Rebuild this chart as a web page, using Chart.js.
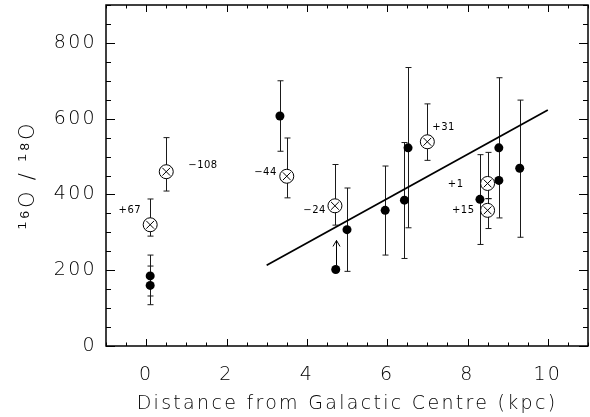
<!DOCTYPE html>
<html>
<head>
<meta charset="utf-8">
<script src="https://cdn.jsdelivr.net/npm/chart.js@4.4.1/dist/chart.umd.min.js"></script>
<style>
  html, body { margin: 0; padding: 0; background: #fff; }
  canvas { display: block; }
</style>
</head>
<body>
<canvas id="isoChart" width="590" height="417"></canvas>
<script>
// Data
// filled dots
const dotX  = [0.1, 0.1, 3.33, 5.0, 5.95, 6.43, 6.52, 8.31, 8.78, 8.78, 9.3];
const dotY  = [185, 160, 607, 307, 358, 385, 523, 387, 523, 437, 469];
const dotLo = [132, 109, 514, 197, 240, 231, 312, 268, null, 338, 287];
const dotHi = [240, 211, 700, 417, 475, 537, 735, 505, null, 708, 649];

// circled crosses, with their velocity tags
const crossX    = [0.1, 0.5, 3.5, 4.7, 7.0, 8.5, 8.5];
const crossY    = [320, 460, 448, 370, 539, 429, 358];
const crossLo   = [290, 409, 391, 319, 490, 389, 310];
const crossHi   = [388, 550, 549, 479, 639, 511, 389];
const crossTags = ['+67', '\u2212108', '\u221244', '\u221224', '+31', '+1', '+15'];

// lower limit
const limitX = [4.72];
const limitY = [202];

// linear fit
const fitX = [3, 10];
const fitY = [213, 623];

const xTicks = [0, 2, 4, 6, 8, 10];
const yTicks = [0, 200, 400, 600, 800];

// Layout of the tags (px from the marker centre)
const TAG_POS = [
    { dx: -9, dy: -14, align: 'right' },
    { dx: 22, dy: -6, align: 'left' },
    { dx: -10, dy: -4, align: 'right' },
    { dx: -9, dy: 5, align: 'right' },
    { dx: 5, dy: -14, align: 'left' },
    { dx: -24, dy: 1, align: 'right' },
    { dx: -13, dy: 0, align: 'right' }
];

const FONT = "'DejaVu Sans', sans-serif";
const INK = '#000';

const toPts = (xs, ys) => xs.map((x, i) => ({ x: x, y: ys[i] }));

// error bars + lower-limit arrow, under the markers
const errorBars = {
    id: 'errorBars',
    beforeDatasetsDraw(chart) {
        const ctx = chart.ctx;
        const xs = chart.scales.x, ys = chart.scales.y;
        const drawBar = (x, lo, hi, color) => {
            if (lo == null || hi == null) return;
            const px = Math.round(xs.getPixelForValue(x)) + 0.5;
            const p1 = ys.getPixelForValue(lo), p2 = ys.getPixelForValue(hi);
            ctx.strokeStyle = color;
            ctx.beginPath();
            ctx.moveTo(px, p1); ctx.lineTo(px, p2);
            ctx.moveTo(px - 3, p1); ctx.lineTo(px + 3, p1);
            ctx.moveTo(px - 3, p2); ctx.lineTo(px + 3, p2);
            ctx.stroke();
        };
        ctx.save();
        ctx.lineWidth = 1;
        dotX.forEach((x, i) => drawBar(x, dotLo[i], dotHi[i], '#1a1a1a'));
        crossX.forEach((x, i) => drawBar(x, crossLo[i], crossHi[i], '#1a1a1a'));

        // lower-limit arrow
        ctx.strokeStyle = INK;
        limitX.forEach((x, i) => {
            const px = Math.round(xs.getPixelForValue(x)) + 0.5;
            const py = ys.getPixelForValue(limitY[i]);
            ctx.beginPath();
            ctx.moveTo(px, py - 4); ctx.lineTo(px, py - 29);
            ctx.moveTo(px - 3.5, py - 23); ctx.lineTo(px, py - 29); ctx.lineTo(px + 3.5, py - 23);
            ctx.stroke();
        });
        ctx.restore();
    }
};

// box, inward ticks and the velocity tags
const frame = {
    id: 'frame',
    beforeDraw(chart) {
        chart.ctx.letterSpacing = '2.3px';
    },
    afterDatasetsDraw(chart) {
        const ctx = chart.ctx;
        const a = chart.chartArea;
        const xs = chart.scales.x, ys = chart.scales.y;
        ctx.save();
        ctx.strokeStyle = INK;
        ctx.lineWidth = 1.5;
        ctx.strokeRect(a.left, a.top, a.right - a.left, a.bottom - a.top);

        ctx.lineWidth = 1;
        ctx.beginPath();
        for (let v = xs.min; v <= xs.max + 1e-6; v += 0.5) {
            const px = Math.round(xs.getPixelForValue(v)) + 0.5;
            const len = xTicks.includes(v) ? 7 : 3.5;
            ctx.moveTo(px, a.bottom); ctx.lineTo(px, a.bottom - len);
            ctx.moveTo(px, a.top); ctx.lineTo(px, a.top + len);
        }
        for (let v = ys.min; v <= ys.max + 1e-6; v += 50) {
            const py = Math.round(ys.getPixelForValue(v)) + 0.5;
            const len = yTicks.includes(v) ? 9 : 5;
            ctx.moveTo(a.left, py); ctx.lineTo(a.left + len, py);
            ctx.moveTo(a.right, py); ctx.lineTo(a.right - len, py);
        }
        ctx.stroke();

        ctx.fillStyle = INK;
        ctx.font = '10px ' + FONT;
        ctx.letterSpacing = '0.5px';
        ctx.textBaseline = 'middle';
        crossTags.forEach((t, i) => {
            const p = TAG_POS[i];
            ctx.textAlign = p.align;
            ctx.fillText(t, xs.getPixelForValue(crossX[i]) + p.dx, ys.getPixelForValue(crossY[i]) + p.dy);
        });
        ctx.restore();
    }
};

new Chart(document.getElementById('isoChart'), {
    type: 'scatter',
    data: {
        // first dataset is painted last (on top)
        datasets: [
            {
                label: 'fit',
                type: 'line',
                data: toPts(fitX, fitY),
                borderColor: INK,
                borderWidth: 1.8,
                pointRadius: 0,
                fill: false
            },
            {
                label: 'cross',
                data: toPts(crossX, crossY),
                pointStyle: 'crossRot',
                pointRadius: 5.5,
                borderColor: INK,
                borderWidth: 1
            },
            {
                label: 'ring',
                data: toPts(crossX, crossY),
                pointStyle: 'circle',
                pointRadius: 7,
                backgroundColor: '#fff',
                borderColor: INK,
                borderWidth: 1
            },
            {
                label: 'dots',
                data: toPts(dotX, dotY),
                pointStyle: 'circle',
                pointRadius: 4.5,
                backgroundColor: INK,
                borderColor: INK,
                borderWidth: 0
            },
            {
                label: 'limit',
                data: toPts(limitX, limitY),
                pointStyle: 'circle',
                pointRadius: 4.5,
                backgroundColor: INK,
                borderWidth: 0
            }
        ]
    },
    options: {
        responsive: false,
        animation: false,
        layout: { autoPadding: false, padding: { left: 0, right: 2, top: 5, bottom: 0 } },
        plugins: {
            legend: { display: false },
            tooltip: { enabled: false }
        },
        scales: {
            x: {
                type: 'linear',
                min: -1,
                max: 11,
                afterFit: s => { s.height = 71; s.paddingLeft = 0; s.paddingRight = 0; },
                afterBuildTicks: s => { s.ticks = xTicks.map(v => ({ value: v })); },
                grid: { display: false, drawTicks: false },
                border: { display: false },
                ticks: {
                    color: INK,
                    padding: 18,
                    maxRotation: 0,
                    font: { family: FONT, size: 19, weight: 200 }
                },
                title: {
                    display: true,
                    text: 'Distance from Galactic Centre (kpc)',
                    color: INK,
                    padding: { top: 0, bottom: 2 },
                    font: { family: FONT, size: 19, weight: 200 }
                }
            },
            y: {
                type: 'linear',
                min: 0,
                max: 900,
                afterFit: s => { s.width = 106; s.paddingTop = 0; s.paddingBottom = 0; },
                afterBuildTicks: s => { s.ticks = yTicks.map(v => ({ value: v })); },
                grid: { display: false, drawTicks: false },
                border: { display: false },
                ticks: {
                    color: INK,
                    padding: 9,
                    font: { family: FONT, size: 19, weight: 200 }
                },
                title: {
                    display: true,
                    text: '\u00b9\u2076O / \u00b9\u2078O',
                    color: INK,
                    padding: { top: 16, bottom: 0 },
                    font: { family: FONT, size: 21, weight: 200 }
                }
            }
        }
    },
    plugins: [errorBars, frame]
});
</script>
</body>
</html>
